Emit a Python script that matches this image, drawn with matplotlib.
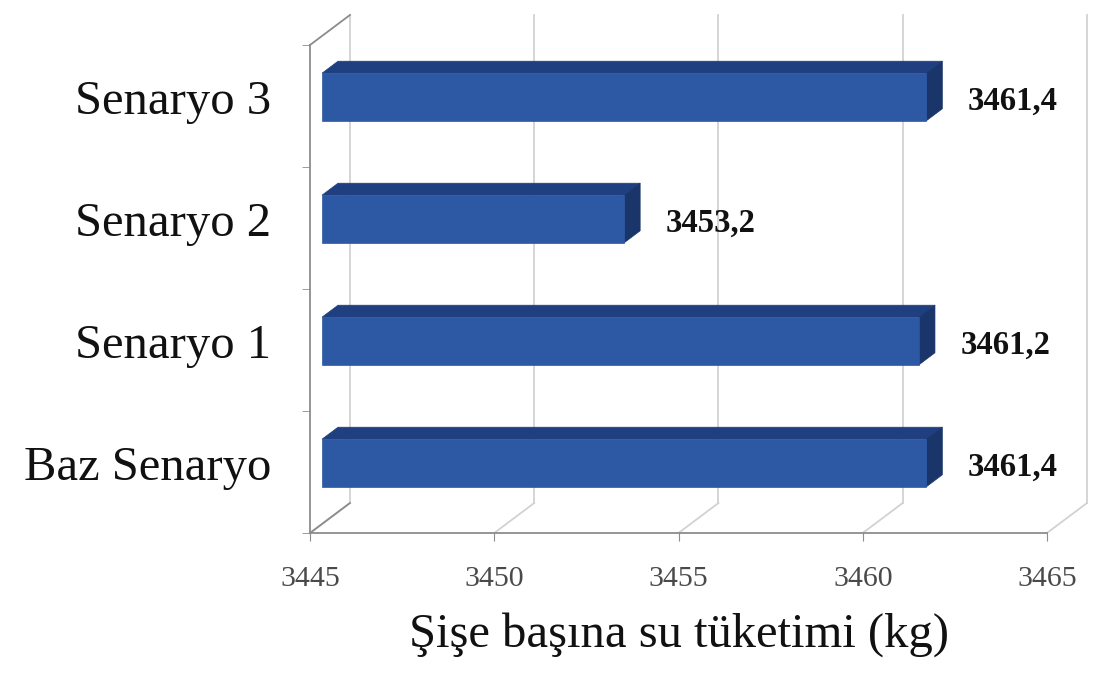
import matplotlib.pyplot as plt
from matplotlib.patches import Polygon

plt.rcParams['font.family'] = ['Liberation Serif', 'DejaVu Serif']

categories = ['Baz Senaryo', 'Senaryo 1', 'Senaryo 2', 'Senaryo 3']
values = [3461.4, 3461.2, 3453.2, 3461.4]
value_labels = ['3461,4', '3461,2', '3453,2', '3461,4']
xticks = [3445, 3450, 3455, 3460, 3465]

xmin, xmax = 3445, 3465
# depth offset of the back wall, in data units
DX, DY = 1.085, 0.246
bar_h = 0.39
d0, d1 = 0.3, 0.7  # bar front/back depth fraction

fig = plt.figure(figsize=(10.94, 6.74), dpi=100)
ax = fig.add_axes([310 / 1094, (674 - 533) / 674, 737 / 1094, 488 / 674])
ax.set_xlim(xmin, xmax)
ax.set_ylim(-0.5, 3.5)

grid_c = '#d2d2d2'
axis_c = '#8c8c8c'

# back wall gridlines and floor diagonals
for v in xticks:
    ax.plot([v + DX, v + DX], [-0.5 + DY, 3.5 + DY], color=grid_c, lw=1.3,
            clip_on=False, zorder=1)
    ax.plot([v, v + DX], [-0.5, -0.5 + DY], color=grid_c, lw=1.3,
            clip_on=False, zorder=1)
ax.plot([xmin, xmin + DX], [3.5, 3.5 + DY], color=axis_c, lw=1.3,
        clip_on=False, zorder=1)
ax.plot([xmin, xmin + DX], [-0.5, -0.5 + DY], color=axis_c, lw=1.3,
        clip_on=False, zorder=1)

front_c = '#2C58A4'
top_c = '#1F3F80'
end_c = '#1A3569'

for i, (v, lab) in enumerate(zip(values, value_labels)):
    y0, y1 = i - bar_h / 2, i + bar_h / 2
    fx0, fx1 = xmin + d0 * DX, v + d0 * DX
    fy0, fy1 = y0 + d0 * DY, y1 + d0 * DY
    bx0, bx1 = xmin + d1 * DX, v + d1 * DX
    by1 = y1 + d1 * DY
    by0 = y0 + d1 * DY
    # top face
    ax.add_patch(Polygon([(fx0, fy1), (fx1, fy1), (bx1, by1), (bx0, by1)],
                         closed=True, fc=top_c, ec=top_c, lw=0.5, zorder=3,
                         clip_on=False))
    # end face
    ax.add_patch(Polygon([(fx1, fy0), (fx1, fy1), (bx1, by1), (bx1, by0)],
                         closed=True, fc=end_c, ec=end_c, lw=0.5, zorder=3,
                         clip_on=False))
    # front face
    ax.add_patch(Polygon([(fx0, fy0), (fx1, fy0), (fx1, fy1), (fx0, fy1)],
                         closed=True, fc=front_c, ec=front_c, lw=0.5, zorder=4,
                         clip_on=False))
    ax.text(v + 1.45, i + 0.04, lab, ha='left', va='center', fontsize=23.5,
            fontweight='bold', color='#111111', zorder=5)

for s in ['top', 'right']:
    ax.spines[s].set_visible(False)
for s in ['left', 'bottom']:
    ax.spines[s].set_color(axis_c)
    ax.spines[s].set_linewidth(1.3)
ax.set_facecolor('none')

ax.set_xticks(xticks)
ax.set_xticklabels([str(t) for t in xticks], fontsize=21.5, color='#4a4a4a')
ax.tick_params(axis='x', length=6, color=axis_c, pad=18)

# category labels sit level with the bar fronts
ax.set_yticks([i + d0 * DY for i in range(len(categories))])
ax.set_yticklabels(categories, fontsize=35, color='#111111')
ax.set_yticks([-0.5, 0.5, 1.5, 2.5, 3.5], minor=True)
ax.tick_params(axis='y', which='major', length=0, pad=28)
ax.tick_params(axis='y', which='minor', length=6, color=axis_c)

ax.set_xlabel('Şişe başına su tüketimi (kg)', fontsize=35, color='#111111',
              labelpad=14)

fig.savefig('out.png', dpi=100)
